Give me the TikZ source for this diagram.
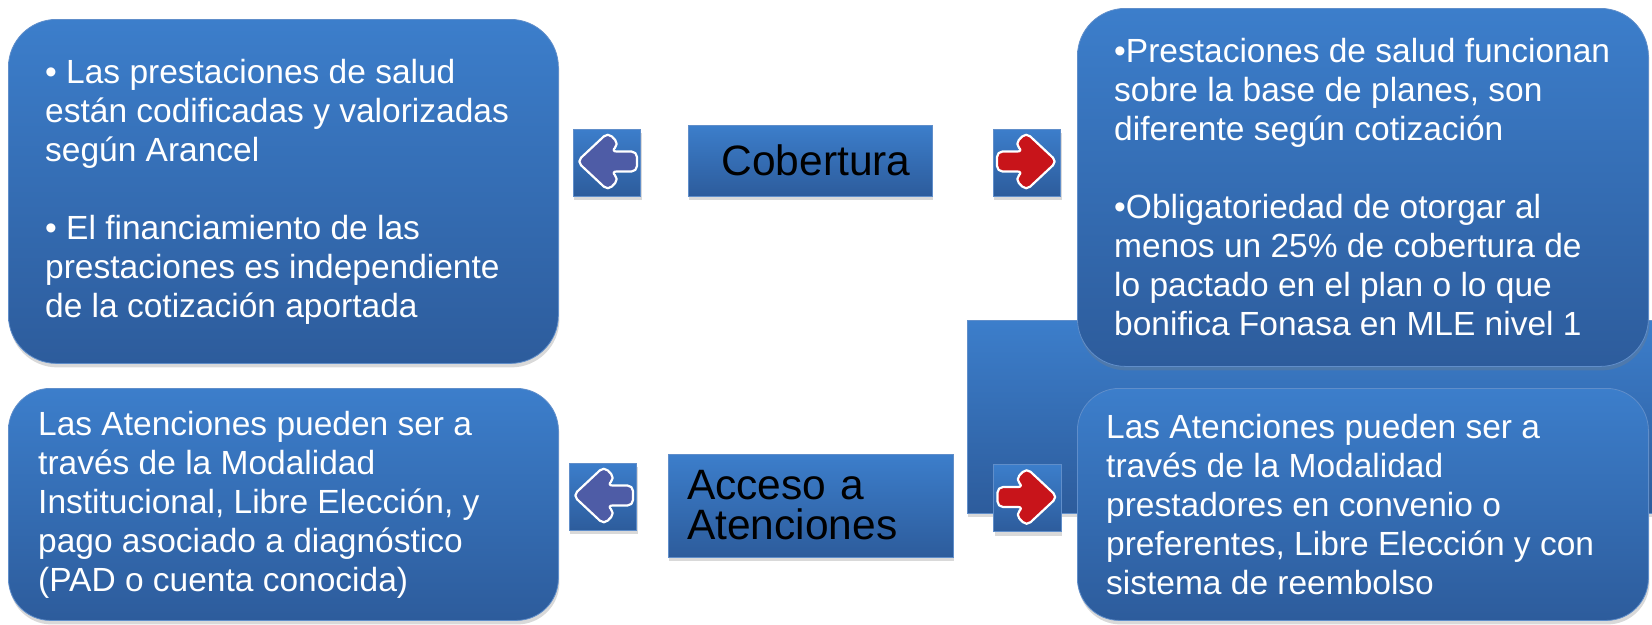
\documentclass[tikz,border=0pt]{standalone}
\usepackage{fontspec}
\setmainfont{Liberation Sans}
\usetikzlibrary{shadows,calc}
\definecolor{boxtop}{RGB}{60,126,203}
\definecolor{boxbot}{RGB}{45,92,156}
\definecolor{boxedge}{RGB}{96,142,202}
\definecolor{arrred}{RGB}{200,20,26}
\definecolor{arrblue}{RGB}{78,92,166}
\tikzset{
  gradfill/.style={top color=boxtop, bottom color=boxbot, draw=boxedge, line width=0.8pt,
     drop shadow={opacity=0.3, shadow xshift=1pt, shadow yshift=-4pt}},
  bigbox/.style={gradfill, rounded corners=48pt, inner sep=0pt},
  flatbox/.style={gradfill, inner sep=0pt},
  bodytext/.style={text=white, align=left, inner sep=0pt, anchor=west, font=\fontsize{33.5}{39}\selectfont},
  headtext/.style={text=black, font=\fontsize{42.5}{40}\selectfont},
  arrsq/.style={flatbox, minimum width=67.5pt, minimum height=67pt},
  glyph/.style={draw=white, line width=2.2pt, rounded corners=5.5pt, line join=round}
}
\newcommand\drawarrowglyph[3]{%
  \begin{scope}[shift={($(#1.center)+(0,-1)$)}, xscale=#2]
    \filldraw[glyph, fill=#3] (30,0) -- (-1,-29) -- (-12,-17.5) -- (-4,-10) -- (-30,-10)
      -- (-30,10) -- (-4,10) -- (-12,17.5) -- (-1,29) -- cycle;
  \end{scope}}
\begin{document}
\begin{tikzpicture}[x=1pt,y=-1pt]
\useasboundingbox (0,0) rectangle (1652,624);
% back rectangle
\node[flatbox, minimum width=690pt, minimum height=193pt, anchor=north west] (back) at (967,320) {};
% big boxes
\node[bigbox, minimum width=571pt, minimum height=358pt, anchor=north west] (tr) at (1077,8) {};
\node[bigbox, rounded corners=42pt, minimum width=571pt, minimum height=232pt, anchor=north west] (br) at (1077,388) {};
\node[bigbox, minimum width=550pt, minimum height=344pt, anchor=north west] (tl) at (8,19) {};
\node[bigbox, rounded corners=42pt, minimum width=550pt, minimum height=232pt, anchor=north west] (bl) at (8,388) {};
% heading boxes
\node[flatbox, headtext, minimum width=244pt, minimum height=71pt] (cob) at (810,160.5) {\hspace*{12pt}Cobertura};
\node[flatbox, headtext, align=left, text width=247pt, inner xsep=19pt, minimum height=103pt] (acc) at (810.5,505.5) {Acceso a\\Atenciones};
% arrow squares
\node[arrsq] (la1) at (607,162.5) {};
\node[arrsq] (ra1) at (1027,162.5) {};
\node[arrsq] (la2) at (603,496.5) {};
\node[arrsq] (ra2) at (1027.5,498) {};
\drawarrowglyph{la1}{-1}{arrblue}
\drawarrowglyph{ra1}{1}{arrred}
\drawarrowglyph{la2}{-1}{arrblue}
\drawarrowglyph{ra2}{1}{arrred}
% texts
\node[bodytext] (tltext) at ($(tl.west)+(37,0)$) {• Las prestaciones de salud\\ están codificadas y valorizadas\\ según Arancel\\[39pt] • El financiamiento de las\\ prestaciones es independiente\\ de la cotización aportada};
\node[bodytext] (trtext) at ($(tr.west)+(37,0)$) {•Prestaciones de salud funcionan\\ sobre la base de planes, son\\ diferente según cotización\\[39pt] •Obligatoriedad de otorgar al\\ menos un 25\% de cobertura de\\ lo pactado en el plan o lo que\\ bonifica Fonasa en MLE nivel 1};
\node[bodytext] (bltext) at ($(bl.west)+(30,0)$) {Las Atenciones pueden ser a\\ través de la Modalidad\\ Institucional, Libre Elección, y\\ pago asociado a diagnóstico\\ (PAD o cuenta conocida)};
\node[bodytext] (brtext) at ($(br.west)+(29,0)$) {Las Atenciones pueden ser a\\ través de la Modalidad\\ prestadores en convenio o\\ preferentes, Libre Elección y con\\ sistema de reembolso};
\end{tikzpicture}
\end{document}
